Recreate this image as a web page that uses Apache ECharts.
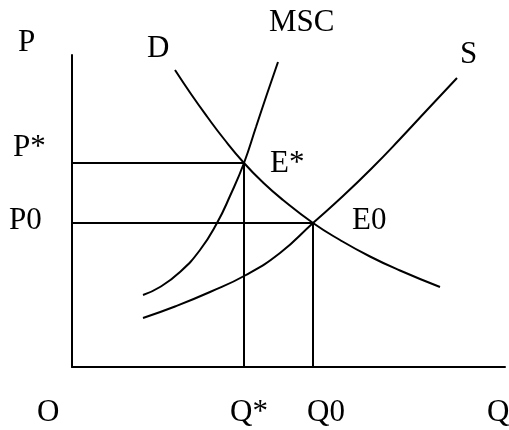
<!DOCTYPE html>
<html>
<head>
<meta charset="utf-8">
<script src="https://cdn.jsdelivr.net/npm/echarts@6/dist/echarts.min.js"></script>
<style>
  html, body { margin: 0; padding: 0; background: #fff; }
  #chart { width: 509px; height: 430px; }
</style>
</head>
<body>
<div id="chart"></div>
<script>
// curves (Q, P)
const demand = [[103, 297], [119, 273], [135, 250.5], [152, 228], [172, 204], [191, 184.5],
  [211, 167], [241, 144], [268, 127], [298, 110.5], [328, 96.5], [368, 80]];
const msc = [[71, 72], [88, 80], [108, 95], [128, 117], [145, 144], [158, 171],
  [172, 204], [184, 240], [195, 273], [206, 305]];
const supply = [[71, 49], [103, 60.5], [138, 75], [173, 91.5], [208, 114], [241, 144],
  [271, 171], [301, 200], [328, 228], [355, 257], [385, 289]];

// equilibria: E* (optimum) and E0 (market)
const eStar = [172, 204];
const e0 = [241, 144];

const font = '"Liberation Serif", "Times New Roman", serif';
const labels = [
  ['P', 18, 43], ['P*', 13, 148], ['P0', 9, 221],
  ['D', 147, 49], ['MSC', 269, 23], ['S', 460, 55],
  ['E*', 270, 164], ['E0', 352, 221],
  ['O', 37, 413], ['Q*', 230, 413], ['Q0', 307, 413], ['Q', 487, 413]
];

const curve = (data) => ({
  type: 'line', data, smooth: 0.5, symbol: 'none',
  lineStyle: {color: '#000', width: 2}
});
const guide = (p) => ({
  type: 'line', data: [[0, p[1]], p, [p[0], 0]], symbol: 'none',
  lineStyle: {color: '#000', width: 2}
});

const myChart = echarts.init(document.getElementById('chart'));
myChart.setOption({
  animation: false,
  grid: {left: 72, right: 4, top: 55, bottom: 63},
  xAxis: {
    type: 'value', min: 0, max: 433,
    axisLine: {lineStyle: {color: '#000', width: 2}},
    axisTick: {show: false}, axisLabel: {show: false}, splitLine: {show: false}
  },
  yAxis: {
    type: 'value', min: 0, max: 312,
    axisLine: {show: true, lineStyle: {color: '#000', width: 2}},
    axisTick: {show: false}, axisLabel: {show: false}, splitLine: {show: false}
  },
  series: [curve(demand), curve(msc), curve(supply), guide(eStar), guide(e0)],
  graphic: labels.map(([text, x, y]) => ({
    type: 'text', left: x, top: y - 16,
    style: {text, fill: '#000', font: '31px ' + font}
  }))
});
</script>
</body>
</html>
